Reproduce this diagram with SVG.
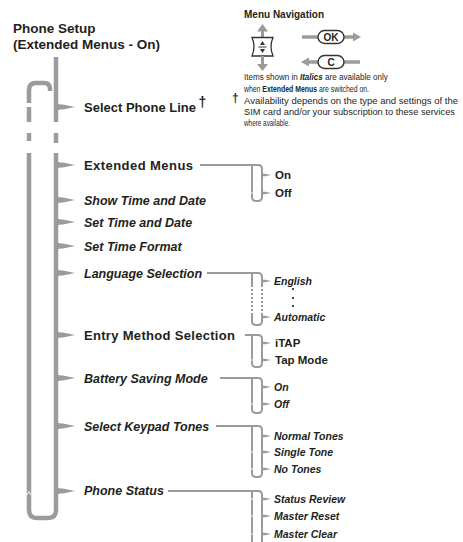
<svg xmlns="http://www.w3.org/2000/svg" width="463" height="542" viewBox="0 0 463 542">
<style>
text{fill:#231f20;font-family:"Liberation Sans",Arial,sans-serif}
.t{font-weight:bold;font-size:13.5px}
.b{font-weight:bold;font-size:13px}
.bi{font-weight:bold;font-style:italic;font-size:12.5px}
.sb{font-weight:bold;font-size:11.5px}
.si{font-weight:bold;font-style:italic;font-size:10.5px}
.lg{font-size:9.3px}
.ml{stroke:#9b9b9d;stroke-width:4.5;fill:none}
.cl{stroke:#9b9b9d;stroke-width:2;fill:none}
.tip{fill:#9b9b9d}
.wt{stroke:#fff;stroke-width:0.9;fill:none}
.pill{fill:#fff;stroke:#333;stroke-width:1.4}
</style>
<rect width="463" height="542" fill="#fff"/>

<g id="title">
<text class="t" x="13" y="33">Phone Setup</text>
<text class="t" x="13" y="49">(Extended Menus - On)</text>
</g>

<g id="legend">
<text x="244" y="18" style="font-weight:bold;font-size:10px">Menu Navigation</text>
<g id="nav-icon">
<path d="M262.5,30 V37" stroke="#9b9b9d" stroke-width="3"/>
<polygon points="257,31.5 268,31.5 262.5,24" fill="#9b9b9d"/>
<path d="M252,37.5 H273 Q269,46.5 273,56 H252 Q256,46.5 252,37.5 Z" fill="#fff" stroke="#333" stroke-width="1.3"/>
<polygon points="262.5,41 260,45 265,45" fill="#333"/>
<path d="M258.5,47 H266.5" stroke="#333" stroke-width="1"/>
<polygon points="260,49 265,49 262.5,53" fill="#333"/>
<path d="M262.5,56 V65" stroke="#9b9b9d" stroke-width="3"/>
<polygon points="257,64 268,64 262.5,71" fill="#9b9b9d"/>
</g>
<g id="ok-key">
<path d="M302,37 H318" stroke="#9b9b9d" stroke-width="3.5"/>
<path d="M344,37 H354" stroke="#9b9b9d" stroke-width="3.5"/>
<polygon points="353,32.5 353,41.5 361,37" fill="#9b9b9d"/>
<rect class="pill" x="318" y="30.5" width="26" height="13" rx="6.5"/>
<text x="331" y="41" text-anchor="middle" style="font-weight:bold;font-size:10px">OK</text>
</g>
<g id="c-key">
<polygon points="301,62 309,57.5 309,66.5" fill="#9b9b9d"/>
<path d="M308,62 H318" stroke="#9b9b9d" stroke-width="3.5"/>
<path d="M344,62 H360" stroke="#9b9b9d" stroke-width="3.5"/>
<rect class="pill" x="318" y="55.5" width="26" height="13" rx="6.5"/>
<text x="331" y="66" text-anchor="middle" style="font-weight:bold;font-size:10px">C</text>
</g>
<text class="lg" transform="translate(244,79.5) scale(0.868,1)">Items shown in <tspan style="font-weight:bold;font-style:italic">Italics</tspan> are available only</text>
<text class="lg" transform="translate(244,91.5) scale(0.74,1)">when <tspan style="font-weight:bold">Extended Menus</tspan> are switched on.</text>
<text x="232" y="102" style="font-weight:bold;font-size:12px">†</text>
<text class="lg" x="244" y="104" textLength="214" lengthAdjust="spacingAndGlyphs">Availability depends on the type and settings of the</text>
<text class="lg" x="244" y="115" textLength="211" lengthAdjust="spacingAndGlyphs">SIM card and/or your subscription to these services</text>
<text class="lg" x="244" y="126" textLength="46" lengthAdjust="spacingAndGlyphs">where available.</text>
</g>

<g id="connectors">
<path class="ml" d="M56,57 V122"/>
<path class="ml" d="M56,133 V143"/>
<path class="ml" d="M56,153 V510 Q56,518 48,518 H37 Q29,518 29,510 V153"/>
<path class="ml" d="M29,141 V133"/>
<path class="ml" d="M29,122 V107"/>
<path class="ml" d="M29,103 V90 Q29,83 36,83 H44 Q50,83 50,89 V91"/>
<path class="wt" d="M27,495 L29,491.5 L31,495"/>
<g id="main-tips" class="tip">
<path d="M54,98 C55,104 58,104.5 63,104.5 L75,107 L63,109.5 C58,109.5 55,110 54,116 Z"/>
<path d="M54,156 C55,162 58,162.5 63,162.5 L75,165 L63,167.5 C58,167.5 55,168 54,174 Z"/>
<path d="M54,191 C55,197 58,197.5 63,197.5 L75,200 L63,202.5 C58,202.5 55,203 54,209 Z"/>
<path d="M54,213 C55,219 58,219.5 63,219.5 L75,222 L63,224.5 C58,224.5 55,225 54,231 Z"/>
<path d="M54,237 C55,243 58,243.5 63,243.5 L75,246 L63,248.5 C58,248.5 55,249 54,255 Z"/>
<path d="M54,264 C55,270 58,270.5 63,270.5 L75,273 L63,275.5 C58,275.5 55,276 54,282 Z"/>
<path d="M54,326 C55,332 58,332.5 63,332.5 L75,335 L63,337.5 C58,337.5 55,338 54,344 Z"/>
<path d="M54,369 C55,375 58,375.5 63,375.5 L75,378 L63,380.5 C58,380.5 55,381 54,387 Z"/>
<path d="M54,417 C55,423 58,423.5 63,423.5 L75,426 L63,428.5 C58,428.5 55,429 54,435 Z"/>
<path d="M54,482 C55,488 58,488.5 63,488.5 L75,491 L63,493.5 C58,493.5 55,494 54,500 Z"/>
</g>

<path id="br-ext" class="cl" d="M200,165 H258 Q262,165 262,169 V197 Q262,201 258,201 H256 Q252,201 252,197 V165"/>
<path id="br-lang-a" class="cl" d="M207,273 H258 Q262,273 262,277 V285 M252,273 V285"/>
<path id="br-lang-b" class="cl" stroke-dasharray="2,2" d="M262,285 V313 M252,285 V313"/>
<path id="br-lang-c" class="cl" d="M262,313 V321 Q262,325 258,325 H256 Q252,325 252,321 V313"/>
<path id="br-entry" class="cl" d="M245,335 H258 Q262,335 262,339 V363 Q262,367 258,367 H256 Q252,367 252,363 V335"/>
<path id="br-batt" class="cl" d="M220,378 H258 Q262,378 262,382 V409 Q262,413 258,413 H256 Q252,413 252,409 V378"/>
<path id="br-keypad" class="cl" d="M216,426 H258 Q262,426 262,430 V473 Q262,477 258,477 H256 Q252,477 252,473 V426"/>
<path id="br-status" class="cl" d="M168,491 H258 Q262,491 262,495 V545 M252,491 V545"/>
<g id="sub-tips" class="tip">
<path d="M261,170 C261.5,173.5 263,173.8 265,173.8 L271,175 L265,176.2 C263,176.2 261.5,176.5 261,180 Z"/>
<path d="M261,188 C261.5,191.5 263,191.8 265,191.8 L271,193 L265,194.2 C263,194.2 261.5,194.5 261,198 Z"/>
<path d="M261,276 C261.5,279.5 263,279.8 265,279.8 L271,281 L265,282.2 C263,282.2 261.5,282.5 261,286 Z"/>
<path d="M261,312 C261.5,315.5 263,315.8 265,315.8 L271,317 L265,318.2 C263,318.2 261.5,318.5 261,322 Z"/>
<path d="M261,338 C261.5,341.5 263,341.8 265,341.8 L271,343 L265,344.2 C263,344.2 261.5,344.5 261,348 Z"/>
<path d="M261,355 C261.5,358.5 263,358.8 265,358.8 L271,360 L265,361.2 C263,361.2 261.5,361.5 261,365 Z"/>
<path d="M261,382 C261.5,385.5 263,385.8 265,385.8 L271,387 L265,388.2 C263,388.2 261.5,388.5 261,392 Z"/>
<path d="M261,399 C261.5,402.5 263,402.8 265,402.8 L271,404 L265,405.2 C263,405.2 261.5,405.5 261,409 Z"/>
<path d="M261,431 C261.5,434.5 263,434.8 265,434.8 L271,436 L265,437.2 C263,437.2 261.5,437.5 261,441 Z"/>
<path d="M261,447 C261.5,450.5 263,450.8 265,450.8 L271,452 L265,453.2 C263,453.2 261.5,453.5 261,457 Z"/>
<path d="M261,464 C261.5,467.5 263,467.8 265,467.8 L271,469 L265,470.2 C263,470.2 261.5,470.5 261,474 Z"/>
<path d="M261,494 C261.5,497.5 263,497.8 265,497.8 L271,499 L265,500.2 C263,500.2 261.5,500.5 261,504 Z"/>
<path d="M261,511 C261.5,514.5 263,514.8 265,514.8 L271,516 L265,517.2 C263,517.2 261.5,517.5 261,521 Z"/>
<path d="M261,529 C261.5,532.5 263,532.8 265,532.8 L271,534 L265,535.2 C263,535.2 261.5,535.5 261,539 Z"/>
</g>
<g id="ticks" class="wt">
<path d="M251,193 H253 M251,404 H253 M251,452 H253 M251,469 H253 M251,499 H253 M251,516 H253 M251,534 H253 M251,360 H253"/>
</g>
</g>

<g id="n-select-line"><text class="b" x="84" y="112">Select Phone Line</text><text x="198.5" y="107" style="font-weight:bold;font-size:14px">†</text></g>
<g id="n-extended"><text class="b" x="84" y="170" textLength="109">Extended Menus</text></g>
<g id="n-ext-on"><text class="sb" x="275" y="179">On</text></g>
<g id="n-ext-off"><text class="sb" x="275" y="197">Off</text></g>
<g id="n-show-time"><text class="bi" x="84" y="204.5">Show Time and Date</text></g>
<g id="n-set-time"><text class="bi" x="84" y="226.5">Set Time and Date</text></g>
<g id="n-time-format"><text class="bi" x="84" y="250.5">Set Time Format</text></g>
<g id="n-language"><text class="bi" x="84" y="277.5">Language Selection</text></g>
<g id="n-english"><text class="si" x="274" y="285">English</text></g>
<g id="n-dots" fill="#231f20"><circle cx="293" cy="289" r="1.1"/><circle cx="293" cy="298" r="1.1"/><circle cx="293" cy="306" r="1.1"/></g>
<g id="n-automatic"><text class="si" x="274" y="321">Automatic</text></g>
<g id="n-entry"><text class="b" x="84" y="340" textLength="151">Entry Method Selection</text></g>
<g id="n-itap"><text class="sb" x="275" y="347">iTAP</text></g>
<g id="n-tapmode"><text class="sb" x="275" y="364">Tap Mode</text></g>
<g id="n-battery"><text class="bi" x="84" y="382.5">Battery Saving Mode</text></g>
<g id="n-batt-on"><text class="si" x="274" y="391">On</text></g>
<g id="n-batt-off"><text class="si" x="274" y="408">Off</text></g>
<g id="n-keypad"><text class="bi" x="84" y="430.5">Select Keypad Tones</text></g>
<g id="n-normal"><text class="si" x="274" y="440">Normal Tones</text></g>
<g id="n-single"><text class="si" x="274" y="456">Single Tone</text></g>
<g id="n-notones"><text class="si" x="274" y="473">No Tones</text></g>
<g id="n-status"><text class="bi" x="84" y="495">Phone Status</text></g>
<g id="n-review"><text class="si" x="274" y="503">Status Review</text></g>
<g id="n-reset"><text class="si" x="274" y="520">Master Reset</text></g>
<g id="n-clear"><text class="si" x="274" y="538">Master Clear</text></g>
</svg>
